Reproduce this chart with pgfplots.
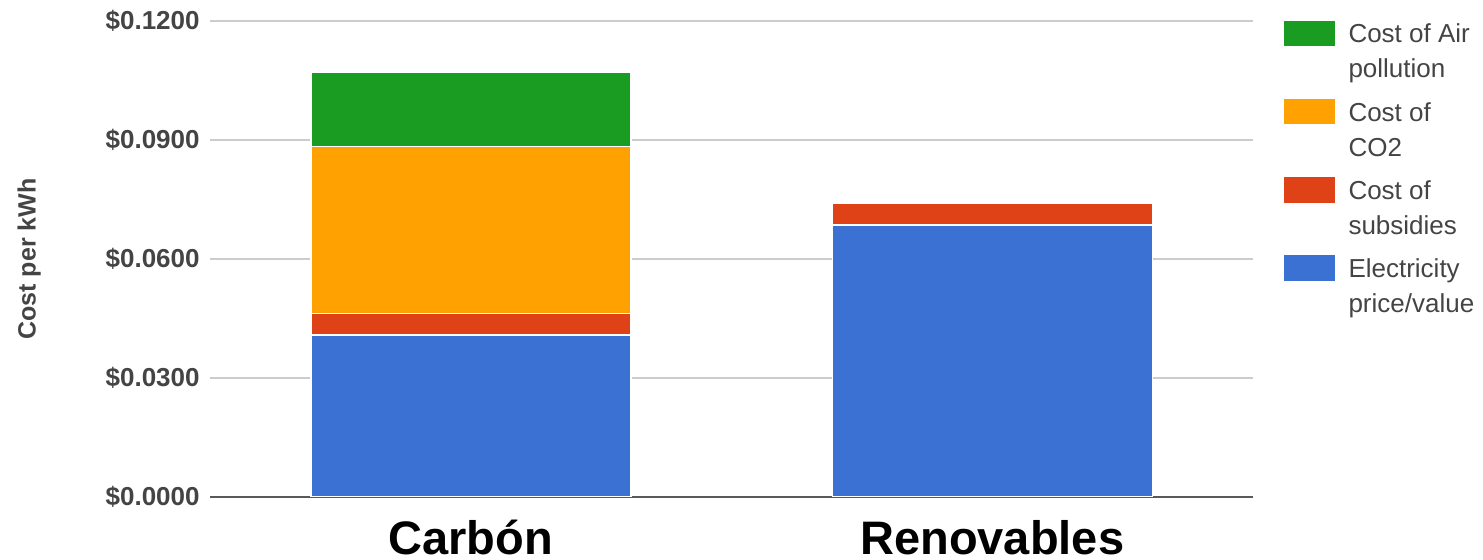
\documentclass[border=0pt]{standalone}
\usepackage{pgfplots}
\pgfplotsset{compat=1.18}
\usepackage{pgfplotstable}
\usepackage{fontspec}
\setmainfont{Liberation Sans}
\definecolor{cBlue}{HTML}{3B71D2}
\definecolor{cRed}{HTML}{DF4217}
\definecolor{cOrange}{HTML}{FFA100}
\definecolor{cGreen}{HTML}{1A9C22}
\definecolor{cText}{HTML}{444444}
\definecolor{cGrid}{HTML}{CCCCCC}

\pgfplotstableread{
x elec subs co2 air
0 0.0408 0.0055 0.0420 0.0189
1 0.0686 0.0054 0.0000 0.0004
}\costdata

\begin{document}
\begin{tikzpicture}
\useasboundingbox (0,0) rectangle (741.5pt,280pt);
\begin{axis}[
  at={(105pt,31.5pt)}, anchor=south west,
  scale only axis, width=521.5pt, height=238pt,
  ybar stacked, bar width=160pt,
  xmin=-0.5, xmax=1.5, ymin=0, ymax=0.12,
  xtick={0,1}, xticklabels={Carbón,Renovables},
  ytick={0,0.03,0.06,0.09,0.12},
  yticklabels={\$0.0000,\$0.0300,\$0.0600,\$0.0900,\$0.1200},
  scaled y ticks=false,
  axis line style={draw=none},
  major tick length=0pt,
  ymajorgrids, grid style={draw=cGrid, line width=0.9pt},
  extra y ticks={0}, extra y tick labels={},
  extra y tick style={grid style={draw=black!65, line width=1pt}},
  yticklabel style={font=\fontsize{13}{15}\selectfont\bfseries, text=cText, anchor=east, inner sep=0pt, xshift=-5pt},
  xticklabel style={font=\fontsize{23.5}{28}\selectfont\bfseries, text=black, anchor=base, inner sep=0pt, yshift=-29pt},
  ylabel={Cost per kWh},
  ylabel style={font=\fontsize{12.5}{15}\selectfont\bfseries, text=cText, at={(axis description cs:-0.1735,0.5)}, anchor=center},
  reverse legend,
  legend style={at={(axis description cs:1.0278,1.00525)}, anchor=north west, draw=none, fill=none, inner sep=0pt, outer sep=0pt, row sep=24.5pt, column sep=6pt, font=\fontsize{13}{17.5}\selectfont, cells={anchor=base west, text=cText}, nodes={inner sep=0pt}},
  legend image code/.code={\fill[#1] (0pt,-2pt) rectangle (26.5pt,11.5pt);},
]
\addplot[fill=cBlue, draw=white, line width=0.75pt] table[x=x,y=elec]{\costdata};
\addlegendentry{\begin{tabular}[t]{@{}l@{}}Electricity\\price/value\end{tabular}}
\addplot[fill=cRed, draw=white, line width=0.75pt] table[x=x,y=subs]{\costdata};
\addlegendentry{\begin{tabular}[t]{@{}l@{}}Cost of\\subsidies\end{tabular}}
\addplot[fill=cOrange, draw=white, line width=0.75pt] table[x=x,y=co2]{\costdata};
\addlegendentry{\begin{tabular}[t]{@{}l@{}}Cost of\\CO2\end{tabular}}
\addplot[fill=cGreen, draw=white, line width=0.75pt] table[x=x,y=air]{\costdata};
\addlegendentry{\begin{tabular}[t]{@{}l@{}}Cost of Air\\pollution\end{tabular}}
\end{axis}
\end{tikzpicture}
\end{document}
